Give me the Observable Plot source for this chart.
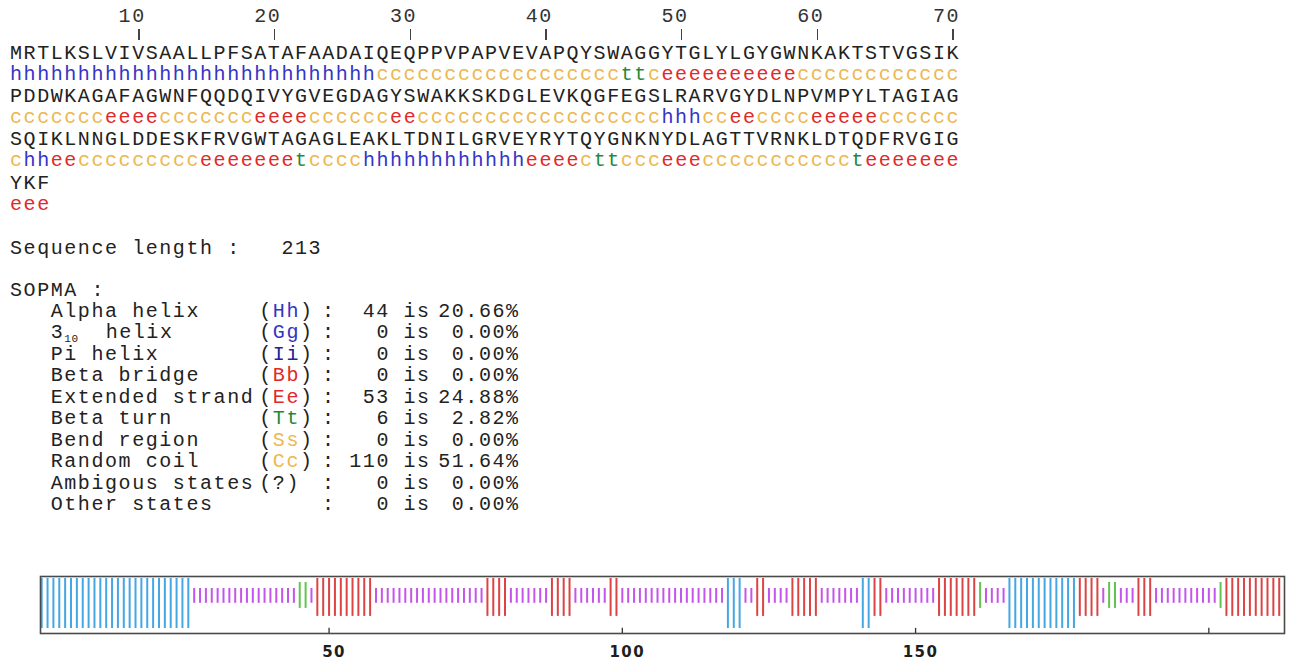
<!DOCTYPE html>
<html>
<head>
<meta charset="utf-8">
<script src="https://cdn.jsdelivr.net/npm/d3@7"></script>
<script src="https://cdn.jsdelivr.net/npm/@observablehq/plot@0.6"></script>
<style>
  html, body { margin: 0; padding: 0; background: #ffffff; }
  body { width: 1290px; height: 662px; overflow: hidden; position: relative; }
  .row { position: absolute; left: 10px; white-space: pre; font-family: "Liberation Mono", "DejaVu Sans Mono", monospace;
         font-size: 20px; line-height: 20px; letter-spacing: 1.57px; color: #222222; font-variant-ligatures: none; }
  .sub { font-size: 11px; position: relative; top: 4px; letter-spacing: 0.5px; line-height: 11px; }
  #chart { position: absolute; left: 0; top: 540px; }
</style>
</head>
<body>
<div id="text"></div>
<div id="chart"></div>
<script>
// ---------------- data ----------------
const rulerPositions = [10, 20, 30, 40, 50, 60, 70];

const sequenceLines = [
  "MRTLKSLVIVSAALLPFSATAFAADAIQEQPPVPAPVEVAPQYSWAGGYTGLYLGYGWNKAKTSTVGSIK",
  "PDDWKAGAFAGWNFQQDQIVYGVEGDAGYSWAKKSKDGLEVKQGFEGSLRARVGYDLNPVMPYLTAGIAG",
  "SQIKLNNGLDDESKFRVGWTAGAGLEAKLTDNILGRVEYRYTQYGNKNYDLAGTTVRNKLDTQDFRVGIG",
  "YKF"
];

const structureLines = [
  "hhhhhhhhhh" + "hhhhhhhhhh" + "hhhhhhhccc" + "cccccccccc" + "cccccttcee" + "eeeeeeeecc" + "cccccccccc",
  "ccccccceee" + "ecccccccee" + "eeccccccee" + "cccccccccc" + "cccccccchh" + "hcceecccce" + "eeeecccccc",
  "chheeccccc" + "cccceeeeee" + "etcccchhhh" + "hhhhhhhhee" + "eecttcccee" + "eccccccccc" + "ccteeeeeee",
  "eee"
];

const sequenceLength = 213;

const stateLabels   = ["Alpha helix", "3_10 helix", "Pi helix", "Beta bridge", "Extended strand", "Beta turn",
                       "Bend region", "Random coil", "Ambigous states", "Other states"];
const stateCodes    = ["Hh", "Gg", "Ii", "Bb", "Ee", "Tt", "Ss", "Cc", "?", ""];
const stateCounts   = [44, 0, 0, 0, 53, 6, 0, 110, 0, 0];
const statePercents = ["20.66%", "0.00%", "0.00%", "0.00%", "24.88%", "2.82%", "0.00%", "51.64%", "0.00%", "0.00%"];

const axisTicks  = [50, 100, 150, 200];
const axisLabels = ["50", "100", "150", ""];

// ---------------- styles ----------------
const textColor = { h: "#3434c6", e: "#e02a2a", t: "#23893a", c: "#ecb850" };
const codeColor = { Hh: "#3434c6", Gg: "#3434c6", Ii: "#23239a", Bb: "#e02a2a", Ee: "#e02a2a", Tt: "#23893a", Ss: "#ecb850", Cc: "#ecb850" };
const barStyle = {
  h: { stroke: "#45a6e4", y1: 0.088, y2: 0.965 },
  e: { stroke: "#dc4343", y1: 0.30,  y2: 0.965 },
  t: { stroke: "#62c44e", y1: 0.44,  y2: 0.895 },
  c: { stroke: "#c654ea", y1: 0.53,  y2: 0.79 }
};

for (let i = 0; i < sequenceLines.length; i++) {
  if (sequenceLines[i].length !== structureLines[i].length)
    throw new Error("length mismatch line " + i + ": " + sequenceLines[i].length + " vs " + structureLines[i].length);
}

// ---------------- text block ----------------
const CW = 13.57;                  // character cell width
const colLeft = k => (k - 1) * CW; // relative to row left (10px)
const textRoot = document.getElementById("text");

function makeRow(centerY) {
  const div = document.createElement("div");
  div.className = "row";
  div.style.top = (centerY - 10) + "px";
  textRoot.appendChild(div);
  return div;
}
function span(parent, txt, color, extra) {
  const s = document.createElement("span");
  s.textContent = txt;
  if (color) s.style.color = color;
  if (extra) Object.assign(s.style, extra);
  parent.appendChild(s);
  return s;
}

// ruler: numbers and tick marks
const numChars = Array(70).fill(" ");
rulerPositions.forEach(p => {
  const s = String(p);
  for (let j = 0; j < s.length; j++) numChars[p - s.length + j] = s[j];
});
span(makeRow(17), numChars.join(""), "#333333");
const tickRow = makeRow(35);
tickRow.style.height = "12px";
rulerPositions.forEach(p => {
  span(tickRow, "", null, { position: "absolute", left: (colLeft(p) + CW / 2 - 0.7) + "px", top: "4px",
                            width: "1.4px", height: "11px", background: "#444444" });
});

// sequence + structure rows
const seqCenters = [54, 97, 140, 184];
const ssCenters  = [75, 118, 161, 205];
sequenceLines.forEach((line, i) => {
  span(makeRow(seqCenters[i]), line, "#222222");
  const r = makeRow(ssCenters[i]);
  const ss = structureLines[i];
  let start = 0;
  for (let j = 1; j <= ss.length; j++) {
    if (j === ss.length || ss[j] !== ss[start]) {
      span(r, ss.slice(start, j), textColor[ss[start]]);
      start = j;
    }
  }
});

// sequence length
span(makeRow(249), "Sequence length :   " + sequenceLength, "#222222");
span(makeRow(291), "SOPMA :", "#222222");

// stats table
const statCenter0 = 312, statStep = 21.45;
stateLabels.forEach((label, i) => {
  const r = makeRow(statCenter0 + i * statStep);
  r.style.width = "600px"; r.style.height = "20px";
  const lab = span(r, "", "#222222", { position: "absolute", left: colLeft(4) + "px", top: "0px" });
  if (label.startsWith("3_10")) {
    lab.textContent = "3";
    const sb = document.createElement("span"); sb.className = "sub"; sb.textContent = "10"; lab.appendChild(sb);
    lab.appendChild(document.createTextNode("  helix"));
  } else {
    lab.textContent = label;
  }
  const code = stateCodes[i];
  if (code) {
    const c = span(r, "", "#222222", { position: "absolute", left: (colLeft(19) + 5) + "px", top: "0px" });
    c.appendChild(document.createTextNode("("));
    const inner = document.createElement("span");
    inner.textContent = code;
    inner.style.color = codeColor[code] || "#222222";
    c.appendChild(inner);
    c.appendChild(document.createTextNode(")"));
  }
  span(r, ":", "#222222", { position: "absolute", left: colLeft(24) + "px", top: "0px" });
  span(r, String(stateCounts[i]), "#222222",
       { position: "absolute", left: (colLeft(29) - 60) + "px", width: "60px", textAlign: "right", top: "0px" });
  span(r, "is", "#222222", { position: "absolute", left: colLeft(30) + "px", top: "0px" });
  span(r, statePercents[i], "#222222",
       { position: "absolute", left: (colLeft(39) - 6 - 100) + "px", width: "100px", textAlign: "right", top: "0px" });
});

// ---------------- bar chart (Observable Plot) ----------------
const residues = [];
structureLines.join("").split("").forEach((s, i) => residues.push({ index: i, state: s }));

const chart = Plot.plot({
  width: 1290,
  height: 122,
  marginLeft: 40,
  marginRight: 6,
  marginTop: 36,
  marginBottom: 29,
  x: { domain: [0.8, 212.9], axis: null },
  y: { domain: [0, 1], axis: null },
  style: { background: "transparent", overflow: "visible" },
  marks: [
    Plot.ruleX(residues, {
      x: "index",
      y1: d => barStyle[d.state].y1,
      y2: d => barStyle[d.state].y2,
      stroke: d => barStyle[d.state].stroke,
      strokeWidth: 2,
      clip: true
    }),
    Plot.frame({ stroke: "#4a4a4a", strokeWidth: 1.6 }),
    Plot.ruleX(axisTicks, { x: d => d, y1: 0, y2: 0.09, stroke: "#333", strokeWidth: 1.3 }),
    Plot.text(axisTicks, {
      x: d => d, y: 0, text: (d, i) => axisLabels[i], dy: 19, dx: 5,
      fontFamily: "DejaVu Sans", fontWeight: "bold", fontSize: 15, fill: "#1e1e1e"
    })
  ]
});
chart.querySelectorAll("text").forEach(t => t.setAttribute("letter-spacing", "1.5"));
document.getElementById("chart").appendChild(chart);
</script>
</body>
</html>
